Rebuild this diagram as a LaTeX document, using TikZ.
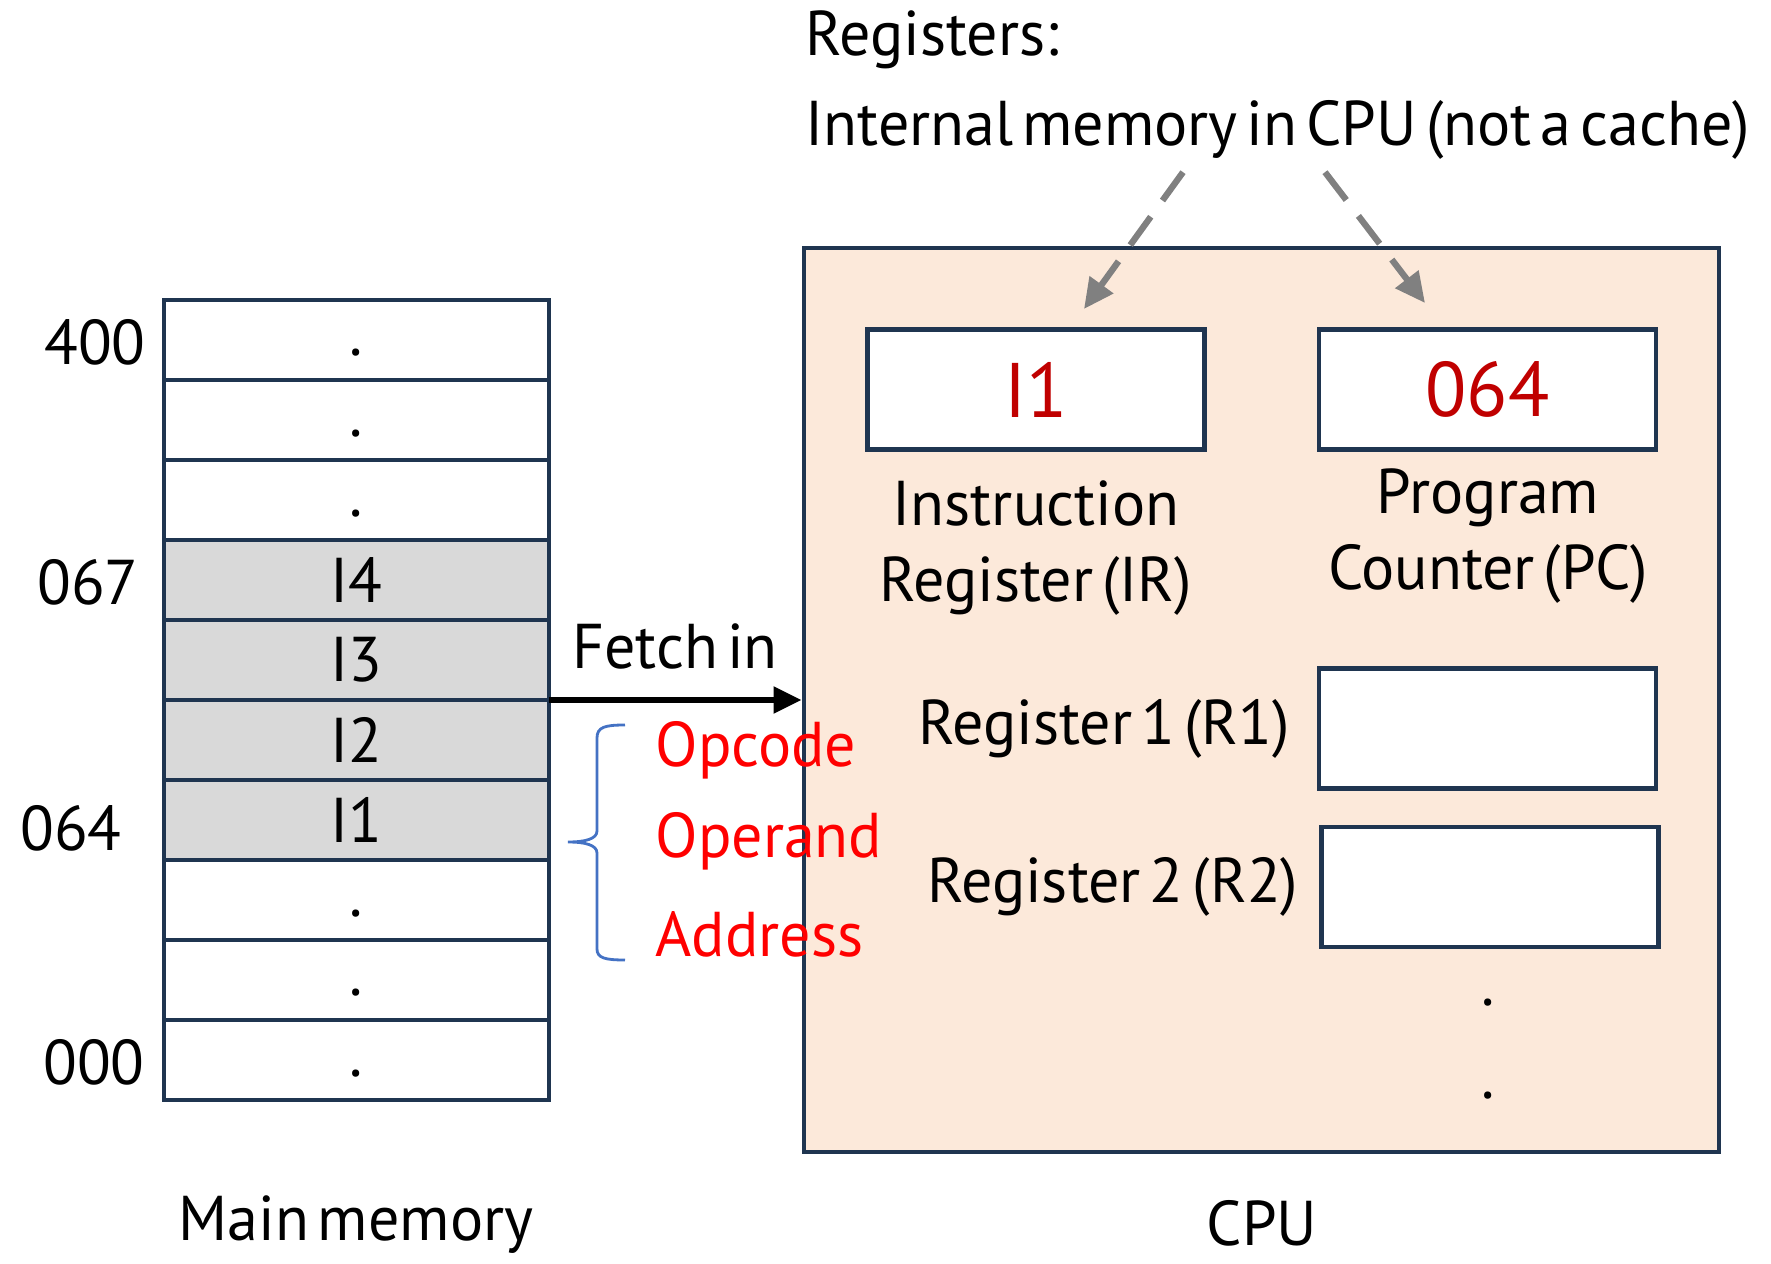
\documentclass[tikz,border=0pt]{standalone}
\usepackage{fontspec}
\setmainfont{PT Sans}[WordSpace=0.55,FakeStretch=0.98]
\usetikzlibrary{positioning,arrows.meta}

\definecolor{navy}{HTML}{1F3550}
\definecolor{peach}{HTML}{FCE9DA}
\definecolor{cellgray}{HTML}{D9D9D9}
\definecolor{darkred}{HTML}{C00000}
\definecolor{bracebl}{HTML}{4472C4}
\definecolor{arrgray}{HTML}{808080}

\newcommand{\celldot}{\raisebox{-1.6mm}[0pt][0pt]{.}}

\tikzset{
  txt/.style={font=\fontsize{18}{21.6}\selectfont,inner sep=0pt},
  cell/.style={txt,draw=navy,line width=1.2pt,minimum width=3.85cm,minimum height=0.8cm,outer sep=0pt},
  instr/.style={cell,fill=cellgray},
  regbox/.style={draw=navy,fill=white,line width=1.4pt,minimum width=3.37cm,minimum height=1.2cm,inner sep=0pt},
  regval/.style={regbox,text=darkred,font=\fontsize{22}{26}\selectfont},
  fetcharrow/.style={line width=1.5pt,-{Triangle[length=0.28cm,width=0.26cm]}},
  regarrow/.style={arrgray,line width=1.8pt,dash pattern=on 0.35cm off 0.2cm,-{Triangle[length=0.3cm,width=0.28cm]}},
  field/.style={txt,text=red,anchor=west}
}

\begin{document}
\begin{tikzpicture}
\useasboundingbox (0,0) rectangle (17.71,12.63);

%main memory
\node[cell]  (m1)  at (3.565,9.23) {\celldot};
\node[cell]  (m2)  at (3.565,8.43) {\celldot};
\node[cell]  (m3)  at (3.565,7.63) {\celldot};
\node[instr] (m4)  at (3.565,6.83) {I4};
\node[instr] (m5)  at (3.565,6.03) {I3};
\node[instr] (m6)  at (3.565,5.23) {I2};
\node[instr] (m7)  at (3.565,4.43) {I1};
\node[cell]  (m8)  at (3.565,3.63) {\celldot};
\node[cell]  (m9)  at (3.565,2.83) {\celldot};
\node[cell]  (m10) at (3.565,2.03) {\celldot};

\node[txt] (a400) at (0.95,9.21) {400};
\node[txt] (a067) at (0.88,6.81) {067};
\node[txt] (a064) at (0.71,4.35) {064};
\node[txt] (a000) at (0.94,2.01) {000};
\node[txt] (memlbl) at (3.56,0.38) {Main memory};

%cpu
\node[draw=navy,fill=peach,line width=1.4pt,minimum width=9.15cm,minimum height=9.04cm,inner sep=0pt] (cpu) at (12.615,5.63) {};
\node[txt] (cpulbl) at (12.62,0.40) {CPU};

\node[regval] (ir) at (10.36,8.735) {I1};
\node[regval] (pc) at (14.875,8.735) {064};
\node[regbox] (r1) at (14.875,5.345) {};
\node[regbox] (r2) at (14.90,3.76) {};

\node[txt,align=center] (irlbl) at (10.36,7.15) {Instruction\\Register (IR)};
\node[txt,align=center] (pclbl) at (14.88,7.27) {Program\\Counter (PC)};
\node[txt,left=0.26cm of r1] (r1lbl) {Register 1 (R1)};
\node[txt,left=0.2cm of r2] (r2lbl) {Register 2 (R2)};

\node[txt] (dotA) at (14.88,2.60) {.};
\node[txt] (dotB) at (14.88,1.67) {.};

%registers note
\node[txt,anchor=west] (regs) at (8.05,12.23) {Registers:};
\node[txt,anchor=west] (internal) at (8.05,11.33) {Internal memory in CPU (not a cache)};
\coordinate (irtip) at (10.84,9.54);
\coordinate (pctip) at (14.25,9.60);
\draw[regarrow] ([xshift=3.78cm,yshift=-0.12cm]internal.south west) -- (irtip);
\draw[regarrow] ([xshift=5.20cm,yshift=-0.12cm]internal.south west) -- (pctip);

%fetch
\draw[fetcharrow] (m5.south east) -- (m5.south east -| cpu.west);
\node[txt] (fetchlbl) at (6.75,6.17) {Fetch in};

%instruction fields
\draw[bracebl,line width=0.8pt] (6.25,5.38) .. controls (6.05,5.38) and (5.97,5.36) .. (5.97,5.25)
  -- (5.97,4.32) .. controls (5.97,4.24) and (5.85,4.21) .. (5.68,4.21)
  .. controls (5.85,4.21) and (5.97,4.18) .. (5.97,4.10)
  -- (5.97,3.14) .. controls (5.97,3.05) and (6.05,3.03) .. (6.25,3.03);
\node[field] (opcode)  at (6.55,5.13) {Opcode};
\node[field] (operand) at (6.55,4.22) {Operand};
\node[field] (address) at (6.55,3.29) {Address};
\end{tikzpicture}
\end{document}
